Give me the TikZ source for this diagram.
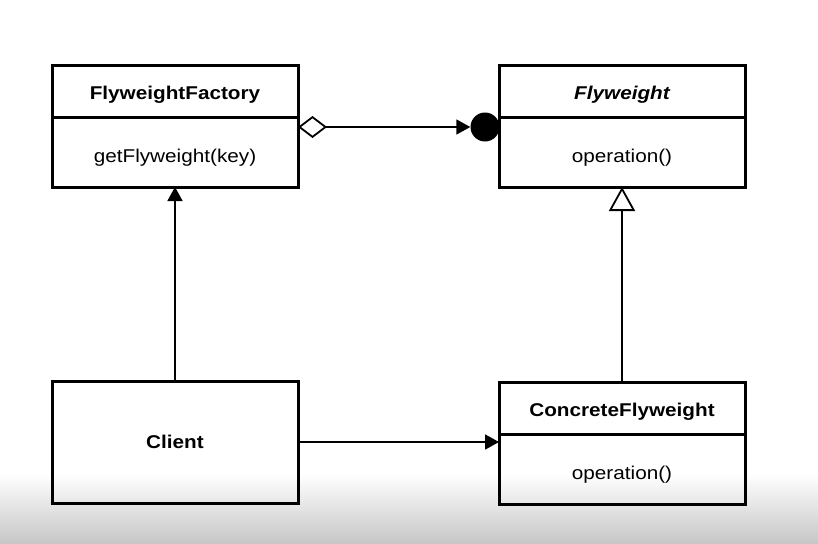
\documentclass[tikz,border=0pt]{standalone}
\usepackage{fontspec}
\setmainfont[FakeStretch=1.12]{Liberation Sans}
\usetikzlibrary{positioning,arrows.meta}
\newcommand\umlfont{\fontsize{18.5}{22}\selectfont}
\tikzset{
  classbox/.style={draw, line width=3pt, minimum width=246pt, inner sep=0pt, outer sep=0pt, font=\umlfont},
  titlebox/.style={classbox, minimum height=52pt, text height=20pt, text depth=4pt, font=\umlfont\bfseries},
  bodybox/.style={classbox, minimum height=70pt, text height=25pt, text depth=4pt},
  link/.style={line width=1.8pt},
  solidhead/.style={-{Triangle[length=14pt, width=15pt]}},
}
\begin{document}
\begin{tikzpicture}[x=1pt, y=-1pt]
\useasboundingbox (0,0) rectangle (818,543);
% background, with the grey band at the foot
\fill[white] (0,0) rectangle (818,543);
\shade[top color=white, bottom color=black!22] (0,474) rectangle (818,543);

% classes
\node[titlebox] (factory) at (175,91) {FlyweightFactory};
\node[bodybox, below=0pt of factory] (factoryops) {getFlyweight(key)};
\node[titlebox, font=\umlfont\bfseries\itshape] (flyweight) at (622,91) {Flyweight};
\node[bodybox, below=0pt of flyweight] (flyweightops) {operation()};
\node[classbox, minimum height=122pt, font=\umlfont\bfseries] (client) at (175,442) {Client};
\node[titlebox] (concrete) at (622,408) {ConcreteFlyweight};
\node[bodybox, below=0pt of concrete] (concreteops) {operation()};
\node[fill, circle, minimum size=29pt, inner sep=0pt] (fwdot) at (485,127) {};

% relations
\draw[link, {Diamond[open, length=29pt, width=22pt, line width=1.8pt]}-{Triangle[length=14pt, width=15pt]}]
  ([yshift=-10pt]factoryops.north east) -- (fwdot.west);
\draw[link, solidhead] (client) -- (factoryops);
\draw[link, solidhead] (client.east) -- (client.east -| concreteops.west);
\draw[link, -{Triangle[open, length=24pt, width=26pt, line width=1.8pt]}] (concrete) -- (flyweightops);
\end{tikzpicture}
\end{document}
